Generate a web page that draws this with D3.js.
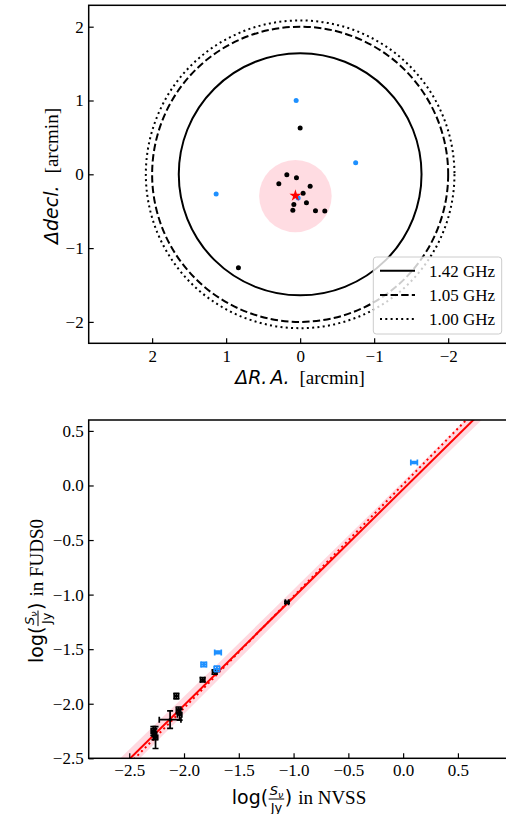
<!DOCTYPE html>
<html><head><meta charset="utf-8">
<script src="https://cdn.jsdelivr.net/npm/d3@7"></script>
<style>body{margin:0;background:#fff}svg{display:block}</style>
</head><body>
<script>
// ---------- data: top panel ----------
const ringLabels = ["1.42 GHz", "1.05 GHz", "1.00 GHz"];
const ringRadii = [1.64, 2.00, 2.085];
const beamCenterRA = 0.064, beamCenterDec = -0.295, beamRadius = 0.49;
const starRA = 0.064, starDec = -0.29;
const blueRA  = [0.054, -0.75, 1.135, 0.027];
const blueDec = [1.00, 0.157, -0.267, -0.32];
const blackRA  = [0.0, 0.18, 0.05, 0.288, -0.135, -0.04, 0.085, -0.085, 0.099, -0.207, -0.333, 0.834];
const blackDec = [0.627, -0.005, -0.046, -0.127, -0.163, -0.258, -0.41, -0.384, -0.488, -0.493, -0.497, -1.265];
const topTicks = [2, 1, 0, -1, -2];

// ---------- data: bottom panel ----------
const blackNVSS = [-1.06, -1.83, -1.72, -2.07, -2.05, -2.04, -2.127, -2.28, -2.27, -2.26];
const blackFUDS = [-1.07, -1.78, -1.71, -1.93, -2.06, -2.10, -2.146, -2.25, -2.28, -2.31];
const blackXerr = [0.015, 0.02, 0.02, 0.02, 0.02, 0.02, 0.099, 0.02, 0.02, 0.02];
const blackYerr = [0.008, 0.02, 0.02, 0.025, 0.03, 0.05, 0.08, 0.04, 0.05, 0.10];
const blueNVSS = [0.10, -1.82, -1.69, -1.70];
const blueFUDS = [0.21, -1.64, -1.53, -1.68];
const blueXerr = [0.03, 0.025, 0.03, 0.025];
const blueYerr = [0.008, 0.02, 0.012, 0.025];
const fitSlope = 0.99, fitIntercept = -0.034;
const bandX    = [-3.0, -2.0, -1.0, 0.0, 1.1];
const bandHalf = [0.10, 0.08, 0.07, 0.07, 0.08];
const refSlope = 1.025, refIntercept = 0.01;
const bottomTicks = [-2.5, -2.0, -1.5, -1.0, -0.5, 0.0, 0.5];

const W = 506, H = 814;
const svg = d3.select("body").append("svg").attr("width", W).attr("height", H);
svg.append("rect").attr("width", W).attr("height", H).attr("fill", "#fff");
const SERIF = "Liberation Serif, Times New Roman, serif";
const SANS = "DejaVu Sans, sans-serif";
const defs = svg.append("defs");

function styleAxis(g) {
  g.attr("font-family", SERIF).attr("font-size", 17);
  g.select(".domain").remove();
  g.selectAll(".tick line").attr("stroke", "#000").attr("stroke-width", 1.2);
  g.selectAll(".tick text").attr("fill", "#000").attr("font-family", SERIF).attr("font-size", 17)
    .style("font-family", SERIF).style("font-size", "17px");
}

// ================= TOP PANEL =================
const tL = 88.7, tR = 511.6, tT = 5.3, tB = 343.3;
const xT = d3.scaleLinear().domain([2.857, -2.857]).range([tL, tR]);
const yT = d3.scaleLinear().domain([-2.29, 2.29]).range([tB, tT]);
defs.append("clipPath").attr("id", "clipT").append("rect")
  .attr("x", tL).attr("y", tT).attr("width", tR - tL).attr("height", tB - tT);
const gT = svg.append("g").attr("clip-path", "url(#clipT)");

const dashes = [null, "7.4,3.2", "2,3.3"];
gT.append("ellipse")
  .attr("cx", xT(beamCenterRA)).attr("cy", yT(beamCenterDec))
  .attr("rx", Math.abs(xT(beamRadius) - xT(0))).attr("ry", Math.abs(yT(beamRadius) - yT(0)))
  .attr("fill", "#FFC0CB").attr("fill-opacity", 0.55);
ringRadii.forEach((r, i) => {
  gT.append("ellipse").attr("cx", xT(0)).attr("cy", yT(0))
    .attr("rx", Math.abs(xT(r) - xT(0))).attr("ry", Math.abs(yT(r) - yT(0)))
    .attr("fill", "none").attr("stroke", "#000").attr("stroke-width", 2)
    .attr("stroke-dasharray", dashes[i]);
});
gT.selectAll(".bpt").data(d3.range(blackRA.length)).join("circle")
  .attr("cx", i => xT(blackRA[i])).attr("cy", i => yT(blackDec[i])).attr("r", 2.5).attr("fill", "#000");
gT.selectAll(".blpt").data(d3.range(blueRA.length)).join("circle")
  .attr("cx", i => xT(blueRA[i])).attr("cy", i => yT(blueDec[i])).attr("r", 2.5).attr("fill", "#1E90FF");
gT.append("path").attr("d", d3.symbol(d3.symbolStar, 45)())
  .attr("transform", `translate(${xT(starRA)},${yT(starDec)})`).attr("fill", "red");

const axXT = d3.axisBottom(xT).tickValues(topTicks).tickSize(-5).tickPadding(6.5).tickFormat(d3.format("d"));
const axYT = d3.axisLeft(yT).tickValues(topTicks).tickSize(-5).tickPadding(5).tickFormat(d3.format("d"));
svg.append("g").attr("transform", `translate(0,${tB})`).call(axXT).call(styleAxis);
svg.append("g").attr("transform", `translate(${tL},0)`).call(axYT).call(styleAxis);

// legend
const lg = svg.append("g");
lg.append("rect").attr("x", 373.3).attr("y", 257).attr("width", 128.4).attr("height", 77).attr("rx", 3)
  .attr("fill", "#fff").attr("fill-opacity", 0.8).attr("stroke", "#ccc").attr("stroke-width", 1);
ringLabels.forEach((lab, i) => {
  const yy = 270.7 + i * 24.2;
  lg.append("line").attr("x1", 380).attr("x2", 415).attr("y1", yy).attr("y2", yy)
    .attr("stroke", "#000").attr("stroke-width", 2).attr("stroke-dasharray", dashes[i]);
  lg.append("text").attr("x", 429).attr("y", yy + 6).attr("font-family", SERIF).attr("font-size", 17).text(lab);
});

svg.append("rect").attr("x", tL).attr("y", tT).attr("width", tR - tL).attr("height", tB - tT)
  .attr("fill", "none").attr("stroke", "#000").attr("stroke-width", 1.5);

// ================= BOTTOM PANEL =================
const bL = 88.7, bR = 511.6, bT = 420, bB = 758.3;
const xB = d3.scaleLinear().domain([-2.87, 0.99]).range([bL, bR]);
const yB = d3.scaleLinear().domain([-2.5, 0.6]).range([bB, bT]);
defs.append("clipPath").attr("id", "clipB").append("rect")
  .attr("x", bL).attr("y", bT).attr("width", bR - bL).attr("height", bB - bT);
const gB = svg.append("g").attr("clip-path", "url(#clipB)");

const lineX = [-3.0, 1.1];
gB.append("path").datum(d3.range(bandX.length))
  .attr("d", d3.area().curve(d3.curveMonotoneX)
    .x(i => xB(bandX[i]))
    .y0(i => yB(fitSlope * bandX[i] + fitIntercept - bandHalf[i]))
    .y1(i => yB(fitSlope * bandX[i] + fitIntercept + bandHalf[i])))
  .attr("fill", "#FFC0CB").attr("fill-opacity", 0.6);
gB.append("path").datum(lineX)
  .attr("d", d3.line().x(d => xB(d)).y(d => yB(fitSlope * d + fitIntercept)))
  .attr("stroke", "red").attr("stroke-width", 2).attr("fill", "none");
gB.append("path").datum(lineX)
  .attr("d", d3.line().x(d => xB(d)).y(d => yB(refSlope * d + refIntercept)))
  .attr("stroke", "red").attr("stroke-width", 2).attr("fill", "none").attr("stroke-dasharray", "2,3.3");

function errPoints(xs, ys, xe, ye, color) {
  const g = gB.append("g").attr("stroke", color).attr("stroke-width", 1.7).attr("fill", "none");
  xs.forEach((x, i) => {
    const cx = xB(x), cy = yB(ys[i]);
    const x0 = xB(x - xe[i]), x1 = xB(x + xe[i]);
    const y0 = yB(ys[i] - ye[i]), y1 = yB(ys[i] + ye[i]);
    g.append("line").attr("x1", x0).attr("x2", x1).attr("y1", cy).attr("y2", cy);
    g.append("line").attr("x1", cx).attr("x2", cx).attr("y1", y0).attr("y2", y1);
    g.append("line").attr("x1", x0).attr("x2", x0).attr("y1", cy - 3).attr("y2", cy + 3);
    g.append("line").attr("x1", x1).attr("x2", x1).attr("y1", cy - 3).attr("y2", cy + 3);
    g.append("line").attr("x1", cx - 3).attr("x2", cx + 3).attr("y1", y0).attr("y2", y0);
    g.append("line").attr("x1", cx - 3).attr("x2", cx + 3).attr("y1", y1).attr("y2", y1);
    g.append("circle").attr("cx", cx).attr("cy", cy).attr("r", 1.6).attr("fill", color).attr("stroke", "none");
  });
}
errPoints(blackNVSS, blackFUDS, blackXerr, blackYerr, "#000");
errPoints(blueNVSS, blueFUDS, blueXerr, blueYerr, "#1E90FF");

const axXB = d3.axisBottom(xB).tickValues(bottomTicks).tickSize(-5).tickPadding(6).tickFormat(d3.format(".1f"));
const axYB = d3.axisLeft(yB).tickValues(bottomTicks).tickSize(-5).tickPadding(5).tickFormat(d3.format(".1f"));
svg.append("g").attr("transform", `translate(0,${bB})`).call(axXB).call(styleAxis);
svg.append("g").attr("transform", `translate(${bL},0)`).call(axYB).call(styleAxis);
svg.append("rect").attr("x", bL).attr("y", bT).attr("width", bR - bL).attr("height", bB - bT)
  .attr("fill", "none").attr("stroke", "#000").attr("stroke-width", 1.5);

// ================= AXIS LABELS =================
function buildLabel(cx, cy, rot, pieces) {
  const outer = svg.append("g").attr("transform", `translate(${cx},${cy}) rotate(${rot})`);
  const g = outer.append("g");
  let x = 0;
  pieces.forEach(p => {
    if (p.gap) { x += p.gap; return; }
    if (p.frac) {
      const fs = 13;
      const n = g.append("text").attr("y", -9).attr("font-family", SANS).attr("font-size", fs);
      n.append("tspan").attr("font-style", "italic").text("S");
      n.append("tspan").attr("dy", 2.5).attr("font-size", 9.5).attr("font-style", "italic").text("ν");
      const d = g.append("text").attr("y", 8).attr("font-family", SANS).attr("font-size", fs).text("Jy");
      const wn = n.node().getComputedTextLength(), wd = d.node().getComputedTextLength();
      const w = Math.max(wn, wd) + 3;
      n.attr("x", x + (w - wn) / 2);
      d.attr("x", x + (w - wd) / 2);
      g.append("line").attr("x1", x + 0.5).attr("x2", x + w - 0.5).attr("y1", -5).attr("y2", -5)
        .attr("stroke", "#000").attr("stroke-width", 1);
      x += w;
      return;
    }
    const t = g.append("text").attr("x", x).attr("y", 0)
      .attr("font-family", p.font).attr("font-size", p.size)
      .attr("font-style", p.italic ? "italic" : "normal").text(p.text);
    x += t.node().getComputedTextLength();
  });
  g.attr("transform", `translate(${-x / 2},0)`);
}

buildLabel(300, 384, 0, [
  { text: "ΔR", font: SANS, size: 19, italic: true }, { text: ".", font: SANS, size: 19, italic: true }, { gap: 3 },
  { text: "A", font: SANS, size: 19, italic: true }, { text: ".", font: SANS, size: 19, italic: true }, { gap: 10 },
  { text: "[arcmin]", font: SERIF, size: 19 }
]);
buildLabel(58, 176, -90, [
  { text: "Δdecl.", font: SANS, size: 19, italic: true }, { gap: 12 },
  { text: "[arcmin]", font: SERIF, size: 19 }
]);
buildLabel(299, 804, 0, [
  { text: "log(", font: SANS, size: 19 }, { frac: true }, { text: ")", font: SANS, size: 19 }, { gap: 6 },
  { text: "in NVSS", font: SERIF, size: 19 }
]);
buildLabel(43, 591, -90, [
  { text: "log(", font: SANS, size: 19 }, { frac: true }, { text: ")", font: SANS, size: 19 }, { gap: 6 },
  { text: "in FUDS0", font: SERIF, size: 19 }
]);
</script>
</body></html>
